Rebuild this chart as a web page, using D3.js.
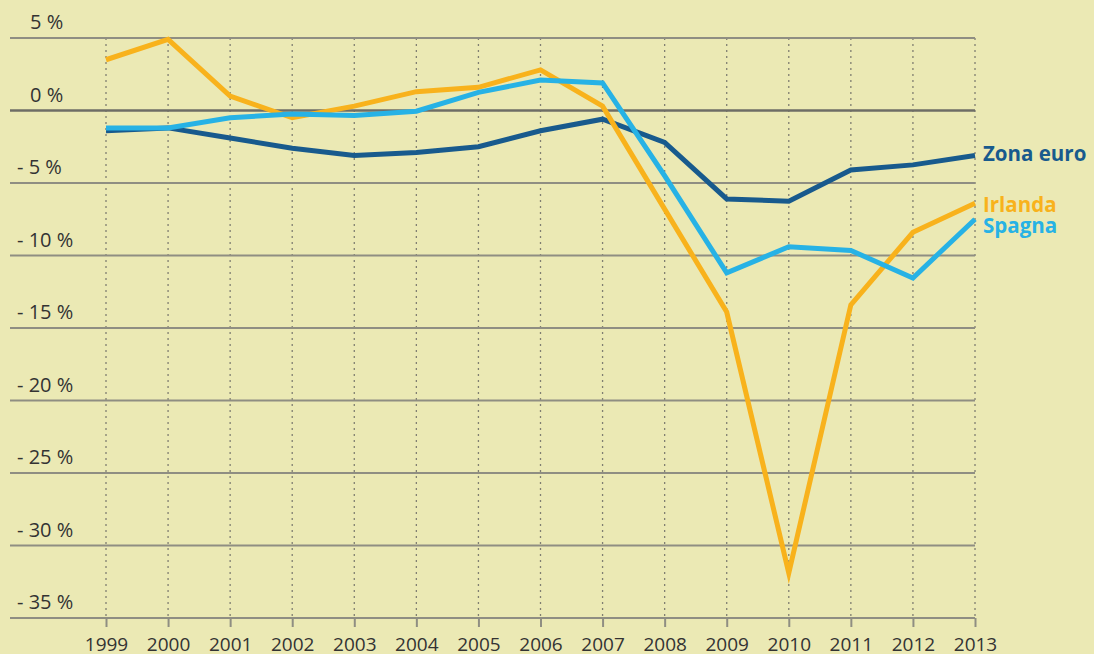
<!DOCTYPE html>
<html>
<head>
<meta charset="utf-8">
<script src="https://cdn.jsdelivr.net/npm/d3@7"></script>
<style>
  body { margin: 0; background: #ebe9b4; }
  svg { display: block; font-family: "Open Sans", "Noto Sans", sans-serif; }
</style>
</head>
<body>
<div id="chart"></div>
<script>
var svgWidth = 1094;
var svgHeight = 654;

var margin = { top: 38, right: 119, bottom: 36, left: 106 };
var width = svgWidth - margin.left - margin.right;
var height = svgHeight - margin.top - margin.bottom;

// data (saldo di bilancio, % del PIL)
var years = [1999, 2000, 2001, 2002, 2003, 2004, 2005, 2006, 2007, 2008, 2009, 2010, 2011, 2012, 2013];
var zonaEuro = [-1.4, -1.2, -1.9, -2.6, -3.1, -2.9, -2.5, -1.4, -0.6, -2.2, -6.1, -6.25, -4.1, -3.75, -3.1];
var irlanda = [3.5, 4.9, 1.0, -0.5, 0.3, 1.3, 1.6, 2.8, 0.3, -6.8, -13.9, -31.9, -13.4, -8.4, -6.4];
var spagna = [-1.2, -1.2, -0.5, -0.25, -0.35, -0.05, 1.25, 2.1, 1.9, -4.5, -11.2, -9.4, -9.65, -11.55, -7.5];
var yTicks = [5, 0, -5, -10, -15, -20, -25, -30, -35];

var series = [
  { name: "Zona euro", values: zonaEuro, color: "#185a8d", labelY: 161 },
  { name: "Irlanda", values: irlanda, color: "#f8b21c", labelY: 212 },
  { name: "Spagna", values: spagna, color: "#27b2e5", labelY: 233 }
];

var svg = d3.select("#chart")
  .append("svg")
  .attr("width", svgWidth)
  .attr("height", svgHeight);

svg.append("rect")
  .attr("width", svgWidth)
  .attr("height", svgHeight)
  .attr("fill", "#ebe9b4");

var chartGroup = svg.append("g")
  .attr("transform", `translate(${margin.left}, ${margin.top})`);

var xScale = d3.scaleLinear()
  .domain([1999, 2013])
  .range([0, width]);

var yScale = d3.scaleLinear()
  .domain([-35, 5])
  .range([height, 0]);

// vertical dotted lines
chartGroup.selectAll(".vgrid")
  .data(years)
  .enter()
  .append("line")
  .attr("x1", d => xScale(d))
  .attr("x2", d => xScale(d))
  .attr("y1", 0)
  .attr("y2", height)
  .attr("stroke", "#807f72")
  .attr("stroke-width", 1.3)
  .attr("stroke-dasharray", "2,4");

// horizontal grid lines
chartGroup.selectAll(".hgrid")
  .data(yTicks)
  .enter()
  .append("line")
  .attr("x1", 10 - margin.left)
  .attr("x2", width)
  .attr("y1", d => yScale(d))
  .attr("y2", d => yScale(d))
  .attr("stroke", d => d === 0 ? "#6e6d66" : "#8f8e82")
  .attr("stroke-width", d => d === 0 ? 2.6 : 2);

// y labels, sitting above each grid line
chartGroup.selectAll(".ylabel")
  .data(yTicks)
  .enter()
  .append("text")
  .attr("x", d => d < 0 ? 17 - margin.left : 30 - margin.left)
  .attr("y", d => yScale(d) - 9)
  .attr("font-size", 20)
  .attr("fill", "#333333")
  .text(d => d < 0 ? `- ${-d} %` : `${d} %`);

// x axis
var bottomAxis = d3.axisBottom(xScale)
  .tickValues(years)
  .tickFormat(d3.format("d"))
  .tickSize(9)
  .tickPadding(4);

var xAxis = chartGroup.append("g")
  .attr("transform", `translate(0, ${height})`)
  .call(bottomAxis);

xAxis.select(".domain").remove();
xAxis.selectAll(".tick line")
  .attr("stroke", "#8f8e82")
  .attr("stroke-width", 2);
xAxis.selectAll(".tick text")
  .attr("font-size", 19)
  .attr("fill", "#333333")
  .attr("font-family", "Open Sans, sans-serif")
  .attr("dy", null)
  .attr("y", 33);

// lines
var line = d3.line()
  .x((d, i) => xScale(years[i]))
  .y(d => yScale(d))
  .curve(d3.curveLinear);

chartGroup.selectAll(".series")
  .data(series)
  .enter()
  .append("path")
  .attr("d", d => line(d.values))
  .attr("fill", "none")
  .attr("stroke", d => d.color)
  .attr("stroke-width", 5)
  .attr("stroke-linejoin", "miter")
  .attr("stroke-miterlimit", 10);

// series labels at the right
chartGroup.selectAll(".serieslabel")
  .data(series)
  .enter()
  .append("text")
  .attr("x", 983 - margin.left)
  .attr("y", d => d.labelY - margin.top)
  .attr("font-size", 20.5)
  .attr("font-weight", "bold")
  .attr("fill", d => d.color)
  .text(d => d.name);
</script>
</body>
</html>
